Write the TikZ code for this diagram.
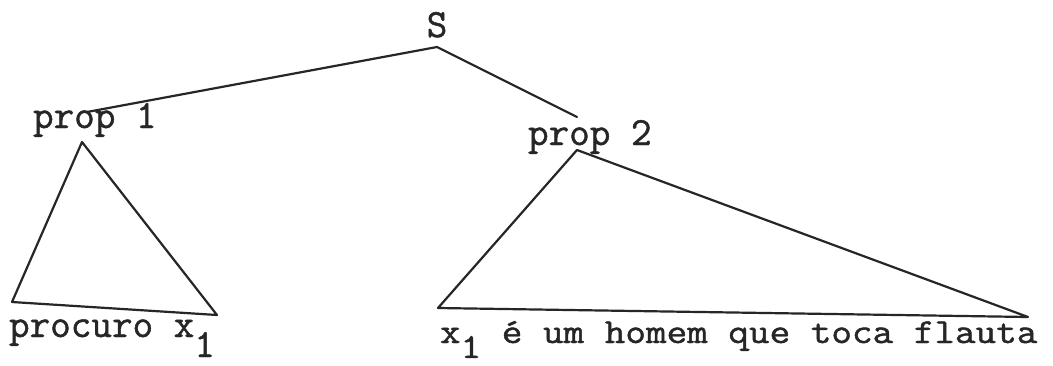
\documentclass[tikz,border=0pt]{standalone}
\usepackage{fontspec}
\newfontfamily\tw{Latin Modern Mono}[FakeBold=1.2]
\begin{document}
\begin{tikzpicture}[x=1pt,y=-1pt,
  lbl/.style={inner sep=0pt,outer sep=0pt,font=\tw\fontsize{40}{45}\selectfont,text=black!85},
  edge/.style={line width=2.2pt,black!85,line join=round,line cap=round}]
\useasboundingbox[fill=white] (0,0) rectangle (1053,365);
% labels
\node[lbl,anchor=base] (S) at (437,37) {S};
\node[lbl,anchor=base west] (p1) at (33,128) {prop 1};
\node[lbl,anchor=base west] (p2) at (528,145) {prop 2};
\node[lbl,anchor=base west] (l1) at (9,337) {procuro x\raisebox{-20pt}{1}};
\node[lbl,anchor=base west] (l2) at (440,343) {\scalebox{1}[0.88]{x\raisebox{-17pt}{1} é um homem que toca flauta}};
% connector points
\coordinate (sv) at (437,47);
\coordinate (p1top) at (87,112);
\coordinate (p2top) at (577,117);
\coordinate (a1) at (82,142);
\coordinate (b1) at (12,302);
\coordinate (c1) at (217,315);
\coordinate (a2) at (577,150);
\coordinate (b2) at (438,308);
\coordinate (c2) at (1028,317);
% tree edges
\draw[edge] (p1top) -- (sv) -- (p2top);
\draw[edge] (a1) -- (b1) -- (c1) -- cycle;
\draw[edge] (a2) -- (b2) -- (c2) -- cycle;
\end{tikzpicture}
\end{document}
